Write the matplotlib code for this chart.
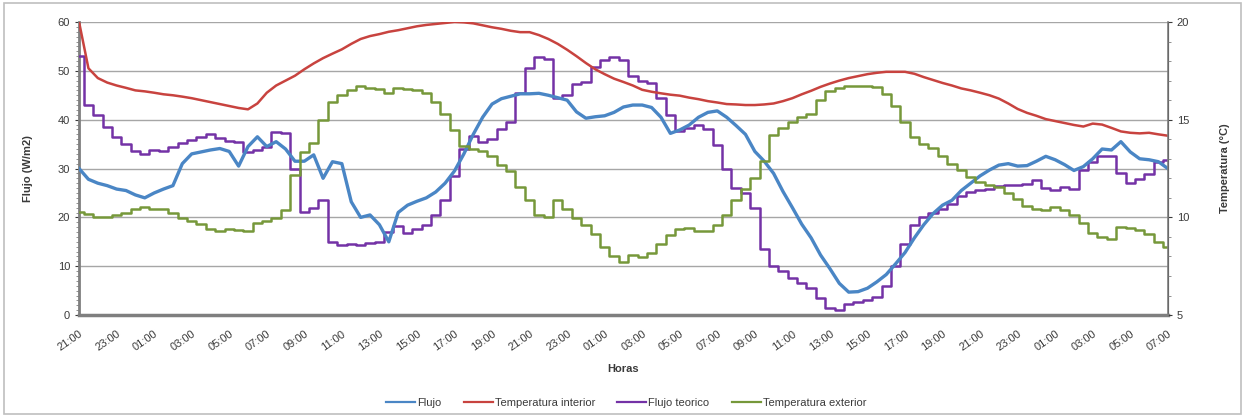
import numpy as np
import matplotlib
matplotlib.use("Agg")
import matplotlib.pyplot as plt
from matplotlib.patches import Rectangle
from matplotlib.ticker import MultipleLocator

plt.rcParams["font.family"] = ["Liberation Sans", "DejaVu Sans"]

# Elapsed hours since 21:00 of the first day, sampled every half hour
hours = np.arange(0, 58.5, 0.5)

tick_labels = ["21:00", "23:00", "01:00", "03:00", "05:00", "07:00",
               "09:00", "11:00", "13:00", "15:00", "17:00", "19:00",
               "21:00", "23:00", "01:00", "03:00", "05:00", "07:00",
               "09:00", "11:00", "13:00", "15:00", "17:00", "19:00",
               "21:00", "23:00", "01:00", "03:00", "05:00", "07:00"]

# Measured heat flux (W/m2)
flujo = [30, 27.8, 27, 26.5, 25.8, 25.5, 24.6, 24, 25, 25.8,
         26.5, 31, 33, 33.4, 33.8, 34.1, 33.5, 30.5, 34.5, 36.5,
         34.5, 35.5, 34, 31.5, 31.5, 32.8, 28, 31.4, 31, 23.2,
         20, 20.5, 18.5, 15, 21, 22.5, 23.3, 24, 25.2, 27,
         29.5, 33, 37, 40.5, 43.2, 44.3, 44.8, 45.3, 45.3, 45.4,
         45, 44.5, 44, 41.6, 40.3, 40.6, 40.8, 41.5, 42.6, 43,
         43, 42.5, 40.5, 37.2, 37.9, 38.9, 40.5, 41.5, 41.8, 40.5,
         38.8, 37, 33.5, 31.5, 29, 25.3, 22, 18.6, 15.8, 12.3,
         9.5, 6.5, 4.7, 4.8, 5.5, 6.8, 8.3, 10.5, 12.8, 15.8,
         18.5, 20.8, 22.5, 23.5, 25.5, 27, 28.5, 29.7, 30.7, 31,
         30.5, 30.6, 31.5, 32.5, 31.8, 30.8, 29.6, 30.4, 32, 34,
         33.8, 35.5, 33.4, 32, 31.8, 31.4, 30]

# Theoretical heat flux (W/m2)
flujo_teorico = [53, 43, 41, 38.5, 36.5, 35, 33.5, 33, 33.8, 33.5,
                 34.5, 35.2, 35.8, 36.5, 37, 36.2, 35.6, 35.5, 33.4, 33.8,
                 34.5, 37.5, 37.2, 30, 21.2, 22, 23.5, 15, 14.3, 14.5,
                 14.3, 14.7, 15, 17, 18.2, 16.8, 17.7, 18.5, 20.5, 23.5,
                 28.5, 34, 36.7, 35.5, 36, 38, 39.5, 45.5, 50.5, 52.8,
                 52.5, 44.5, 45, 47.4, 47.8, 50.8, 52.2, 52.8, 52.2, 49,
                 48, 47.5, 44.5, 41, 37.6, 38.2, 38.9, 38, 34.8, 30,
                 26, 25, 22, 13.5, 10, 9, 7.5, 6.5, 5.5, 3.5,
                 1.4, 1, 2.2, 2.6, 3, 3.8, 6, 10, 14.5, 18.5,
                 20.1, 21, 21.8, 22.8, 24.4, 25.2, 25.7, 25.9, 26.4, 26.6,
                 26.6, 26.9, 27.6, 26, 25.6, 26.2, 25.9, 29.6, 31.4, 32.5,
                 32.6, 29, 27, 27.8, 28.8, 31.4, 31.7]

# Indoor air temperature (°C)
temp_interior = [20.0, 17.63, 17.13, 16.9, 16.75, 16.63, 16.5, 16.45, 16.38, 16.3,
                 16.25, 16.18, 16.1, 16.0, 15.9, 15.8, 15.7, 15.6, 15.53, 15.83,
                 16.38, 16.75, 17.0, 17.25, 17.58, 17.88, 18.15, 18.38, 18.6, 18.88,
                 19.13, 19.28, 19.38, 19.5, 19.58, 19.68, 19.78, 19.85, 19.9, 19.95,
                 20.0, 19.98, 19.93, 19.83, 19.73, 19.65, 19.55, 19.48, 19.48, 19.33,
                 19.13, 18.88, 18.58, 18.25, 17.9, 17.58, 17.33, 17.1, 16.93, 16.75,
                 16.53, 16.43, 16.35, 16.28, 16.23, 16.13, 16.05, 15.95, 15.88, 15.8,
                 15.78, 15.75, 15.75, 15.78, 15.83, 15.95, 16.1, 16.3, 16.48, 16.68,
                 16.85, 17.0, 17.13, 17.23, 17.33, 17.4, 17.45, 17.45, 17.45, 17.35,
                 17.18, 17.03, 16.88, 16.75, 16.6, 16.5, 16.38, 16.25, 16.08, 15.83,
                 15.55, 15.35, 15.2, 15.03, 14.93, 14.83, 14.73, 14.65, 14.8, 14.75,
                 14.58, 14.4, 14.33, 14.3, 14.33, 14.25, 14.18]

# Outdoor air temperature (°C)
temp_exterior = [10.3, 10.15, 10.0, 10.0, 10.13, 10.25, 10.45, 10.55, 10.45, 10.45,
                 10.2, 9.95, 9.8, 9.65, 9.43, 9.3, 9.43, 9.33, 9.3, 9.7,
                 9.8, 9.95, 10.38, 12.18, 13.35, 13.8, 14.98, 15.93, 16.25, 16.5,
                 16.7, 16.63, 16.55, 16.35, 16.6, 16.58, 16.53, 16.38, 15.88, 15.3,
                 14.45, 13.63, 13.5, 13.38, 13.15, 12.7, 12.38, 11.55, 10.88, 10.13,
                 10.03, 10.88, 10.45, 9.95, 9.63, 9.13, 8.5, 8.0, 7.7, 8.1,
                 7.98, 8.2, 8.63, 9.1, 9.4, 9.45, 9.28, 9.28, 9.63, 10.13,
                 10.88, 11.45, 12.0, 12.88, 14.23, 14.55, 14.9, 15.15, 15.3, 16.0,
                 16.45, 16.63, 16.7, 16.75, 16.75, 16.68, 16.3, 15.7, 14.88, 14.13,
                 13.75, 13.53, 13.15, 12.73, 12.4, 12.08, 11.8, 11.65, 11.53, 11.25,
                 10.93, 10.6, 10.45, 10.4, 10.55, 10.38, 10.13, 9.7, 9.2, 9.0,
                 8.9, 9.53, 9.48, 9.33, 9.13, 8.75, 8.5]

C_FLUJO = "#4a86c5"
C_TINT = "#c8433f"
C_TEOR = "#7432a6"
C_TEXT = "#76983a"
GRID = "#a6a6a6"
AXIS = "#7f7f7f"
TXT = "#3a3a3a"

fig = plt.figure(figsize=(12.45, 4.19), dpi=100)
fig.patches.append(Rectangle((0.003, 0.012), 0.994, 0.98, transform=fig.transFigure,
                             fill=False, edgecolor="#bfbfbf", linewidth=1.2))

ax = fig.add_axes([0.0635, 0.248, 0.8745, 0.6995])
ax2 = ax.twinx()

l_flujo, = ax.plot(hours, flujo, color=C_FLUJO, lw=2.4, label="Flujo", zorder=4)
l_tint, = ax2.plot(hours, temp_interior, color=C_TINT, lw=1.8, label="Temperatura interior")
l_teor, = ax.plot(hours, flujo_teorico, color=C_TEOR, lw=1.8, drawstyle="steps-mid",
                  label="Flujo teorico", zorder=3)
l_text, = ax2.plot(hours, temp_exterior, color=C_TEXT, lw=1.8, drawstyle="steps-mid",
                   label="Temperatura exterior")

ax.set_xlim(0, 58)
ax.set_ylim(0, 60)
ax2.set_ylim(5, 20)

ax.set_yticks(np.arange(0, 61, 10))
ax.yaxis.set_minor_locator(MultipleLocator(1))
ax2.set_yticks([5, 10, 15, 20])
ax2.yaxis.set_minor_locator(MultipleLocator(1))

ax.set_xticks(np.arange(0, 59, 2))
ax.set_xticklabels(tick_labels, rotation=35, ha="right", rotation_mode="anchor")

ax.grid(axis="y", color=GRID, lw=1.0)
ax.set_axisbelow(True)

for a in (ax, ax2):
    a.spines["top"].set_visible(False)
    a.tick_params(labelsize=8, colors=TXT, length=3, width=0.8)
    a.tick_params(which="minor", length=2, width=0.6, color=AXIS)
ax.tick_params(axis="x", length=0, pad=10)
ax.spines["left"].set_color(AXIS)
ax.spines["left"].set_linewidth(2)
ax.spines["bottom"].set_color(AXIS)
ax.spines["bottom"].set_linewidth(2.5)
ax2.spines["right"].set_color(AXIS)
ax2.spines["right"].set_linewidth(1.2)
ax2.spines["left"].set_visible(False)
ax2.spines["bottom"].set_visible(False)

ax.set_ylabel("Flujo (W/m2)", fontsize=8, fontweight="bold", color=TXT, labelpad=18)
ax2.set_ylabel("Temperatura (°C)", fontsize=8, fontweight="bold", color=TXT, labelpad=22)
ax.set_xlabel("Horas", fontsize=8, fontweight="bold", color=TXT, labelpad=8)

handles = [l_flujo, l_tint, l_teor, l_text]
leg = fig.legend(handles, [h.get_label() for h in handles], loc="center",
                 bbox_to_anchor=(0.503, 0.038), ncol=4, frameon=False, fontsize=8,
                 handlelength=2.6, handletextpad=0.2, columnspacing=2.0,
                 labelcolor=TXT)
for line in leg.get_lines():
    line.set_linewidth(1.6)

fig.savefig("out.png", dpi=100)
